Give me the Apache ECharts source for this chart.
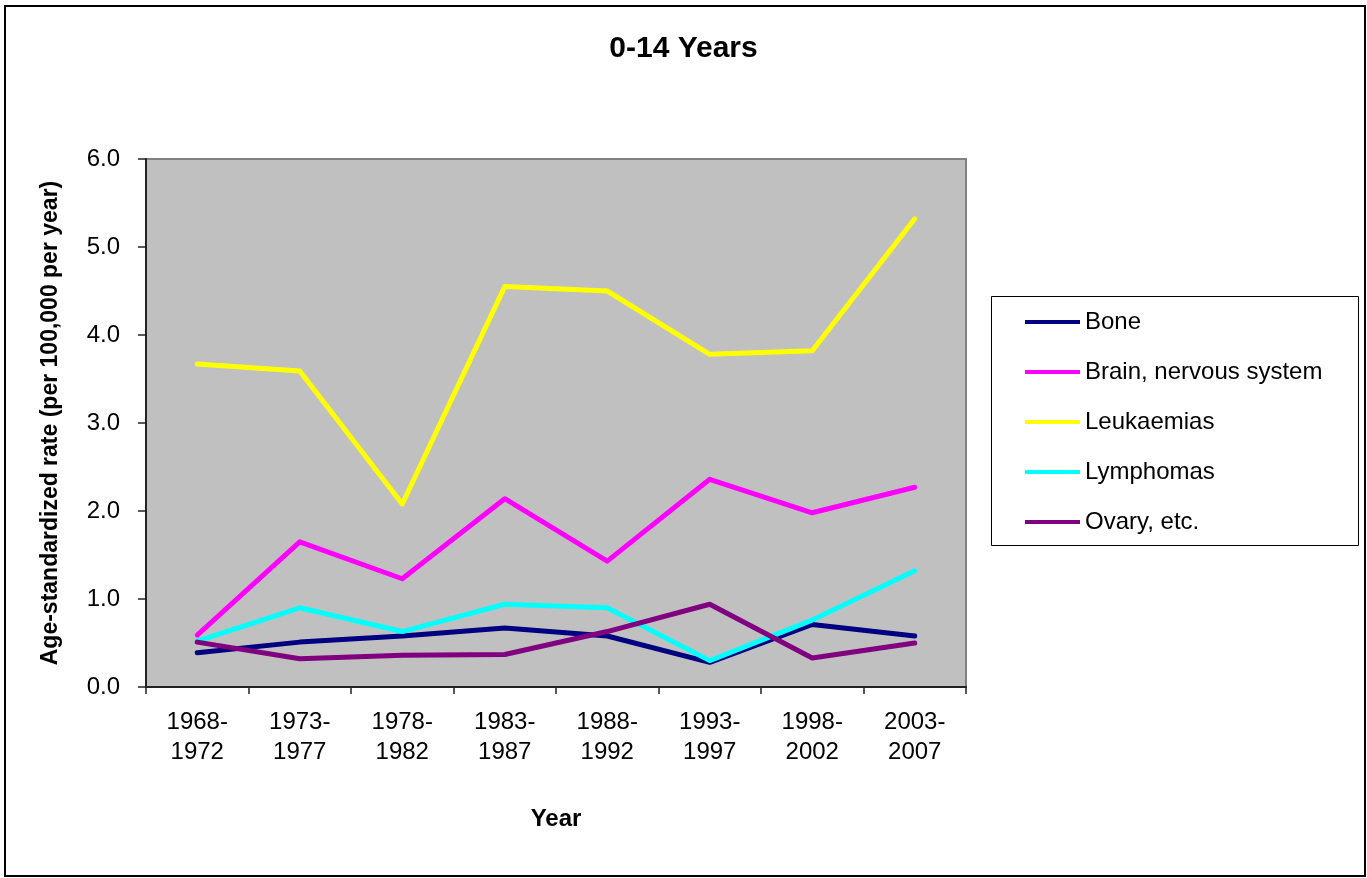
<!DOCTYPE html>
<html>
<head>
<meta charset="utf-8">
<script src="https://cdn.jsdelivr.net/npm/echarts@6/dist/echarts.min.js"></script>
<style>
html,body{margin:0;padding:0;background:#fff;}
#chart{width:1367px;height:878px;}
</style>
</head>
<body>
<div id="chart"></div>
<script>
const categories = ['1968-\n1972','1973-\n1977','1978-\n1982','1983-\n1987','1988-\n1992','1993-\n1997','1998-\n2002','2003-\n2007'];
const bone = [0.39, 0.51, 0.58, 0.67, 0.58, 0.28, 0.71, 0.58];
const brain = [0.59, 1.65, 1.23, 2.14, 1.43, 2.36, 1.98, 2.27];
const leukaemias = [3.67, 3.59, 2.08, 4.55, 4.50, 3.78, 3.82, 5.32];
const lymphomas = [0.52, 0.90, 0.63, 0.94, 0.90, 0.30, 0.76, 1.32];
const ovary = [0.51, 0.32, 0.36, 0.37, 0.63, 0.94, 0.33, 0.50];
const seriesNames = ['Bone','Brain, nervous system','Leukaemias','Lymphomas','Ovary, etc.'];
const seriesColors = ['#000080','#FF00FF','#FFFF00','#00FFFF','#800080'];
const seriesData = [bone, brain, leukaemias, lymphomas, ovary];

const FONT = '"Liberation Sans", Arial, sans-serif';
const chart = echarts.init(document.getElementById('chart'), null, {renderer:'canvas'});
chart.setOption({
  backgroundColor: '#ffffff',
  animation: false,
  textStyle: {fontFamily: FONT, color: '#000'},
  title: {
    text: '0-14 Years',
    left: 'center',
    top: 29,
    textStyle: {fontFamily: FONT, fontSize: 30, fontWeight: 'bold', color: '#000'}
  },
  graphic: [
    {type:'rect', shape:{x:5, y:6, width:1360, height:870}, style:{fill:'none', stroke:'#000', lineWidth:2}, silent:true, z:-10},
    {type:'rect', shape:{x:991.5, y:296.5, width:367, height:249}, style:{fill:'#fff', stroke:'#000', lineWidth:1}, silent:true, z:-5}
  ],
  legend: {
    orient: 'vertical',
    left: 1025,
    top: 310,
    itemWidth: 55,
    itemHeight: 4,
    itemGap: 26,
    icon: 'rect',
    padding: 0,
    textStyle: {fontFamily: FONT, fontSize: 24, color: '#000', lineHeight: 24},
    data: seriesNames
  },
  grid: {
    left: 146, top: 159, width: 820, height: 528,
    show: true, backgroundColor: '#C0C0C0', borderColor: '#808080', borderWidth: 2,
    containLabel: false
  },
  xAxis: {
    type: 'category',
    data: categories,
    boundaryGap: true,
    name: 'Year',
    nameLocation: 'middle',
    nameGap: 120,
    nameTextStyle: {fontFamily: FONT, fontSize: 24, fontWeight: 'bold', color: '#000'},
    axisLine: {show: true, lineStyle: {color: '#222', width: 2}},
    axisTick: {show: true, length: 7, lineStyle: {color: '#222', width: 1.5}},
    axisLabel: {fontFamily: FONT, fontSize: 24, color: '#000', lineHeight: 30, margin: 20, interval: 0},
    splitLine: {show: false}
  },
  yAxis: {
    type: 'value',
    min: 0, max: 6, interval: 1,
    name: 'Age-standardized rate (per 100,000 per year)',
    nameLocation: 'middle',
    nameGap: 84,
    nameTextStyle: {fontFamily: FONT, fontSize: 23, fontWeight: 'bold', color: '#000'},
    axisLine: {show: true, lineStyle: {color: '#222', width: 2}},
    axisTick: {show: true, length: 8, lineStyle: {color: '#222', width: 1.5}},
    axisLabel: {fontFamily: FONT, fontSize: 24, color: '#000', margin: 26, formatter: v => v.toFixed(1)},
    splitLine: {show: false}
  },
  series: seriesNames.map((n, i) => ({
    name: n,
    type: 'line',
    data: seriesData[i],
    symbol: 'none',
    smooth: false,
    itemStyle: {color: seriesColors[i]},
    lineStyle: {color: seriesColors[i], width: 5, cap: 'round', join: 'round'}
  }))
});
</script>
</body>
</html>
